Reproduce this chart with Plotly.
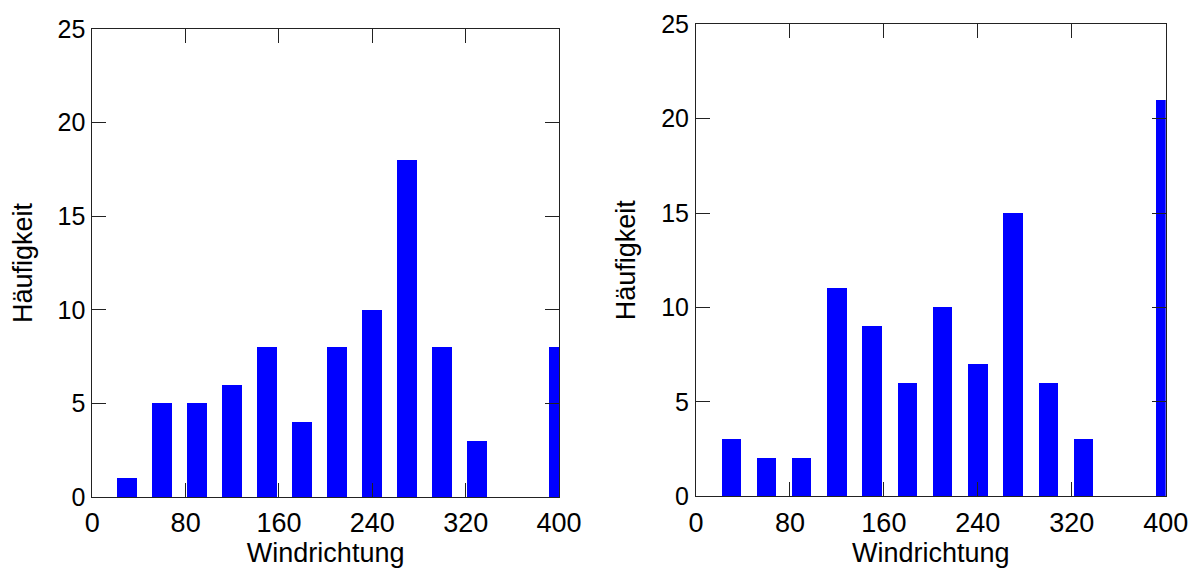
import plotly.graph_objects as go

# Data
bin_centers = [30, 60, 90, 120, 150, 180, 210, 240, 270, 300, 330, 360, 400]
counts_left = [1, 5, 5, 6, 8, 4, 8, 10, 18, 8, 3, 0, 8]
counts_right = [3, 2, 2, 11, 9, 6, 10, 7, 15, 6, 3, 0, 21]
x_ticks = [0, 80, 160, 240, 320, 400]
y_ticks = [0, 5, 10, 15, 20, 25]

BLUE = "#0000FF"
FONT = "Liberation Sans, Arial, Helvetica, sans-serif"

fig = go.Figure()
fig.add_trace(go.Bar(x=bin_centers, y=counts_left, width=16.5,
                     marker=dict(color=BLUE, line=dict(width=0)),
                     xaxis="x", yaxis="y", showlegend=False))
fig.add_trace(go.Bar(x=bin_centers, y=counts_right, width=16.5,
                     marker=dict(color=BLUE, line=dict(width=0)),
                     xaxis="x2", yaxis="y2", showlegend=False))

W, H = 1192, 571

def xd(a, b):
    return [a / W, b / W]

def yd(top, bottom):
    return [1 - bottom / H, 1 - top / H]

axis_common = dict(
    showline=True, linecolor="#222", linewidth=1, mirror="ticks",
    ticks="inside", ticklen=14, tickcolor="#222", tickwidth=1,
    showgrid=False, zeroline=False, automargin=False,
)

xcommon = dict(axis_common, range=[0, 400], tickvals=x_ticks,
               tickfont=dict(family=FONT, size=27, color="black"),
               title=dict(text="Windrichtung", font=dict(family=FONT, size=27, color="black"), standoff=4),
               ticklabelstandoff=2)
ycommon = dict(axis_common, range=[0, 25], tickvals=y_ticks,
               tickfont=dict(family=FONT, size=25, color="black"),
               title=dict(text="Häufigkeit", font=dict(family=FONT, size=27, color="black"), standoff=17),
               ticklabelstandoff=1)

fig.update_layout(
    width=W, height=H,
    margin=dict(l=0, r=0, t=0, b=0, autoexpand=False),
    paper_bgcolor="white", plot_bgcolor="white",
    bargap=0,
    xaxis=dict(xcommon, domain=xd(92.3, 559), anchor="y"),
    yaxis=dict(ycommon, domain=yd(29, 497), anchor="x"),
    xaxis2=dict(xcommon, domain=xd(696, 1165.7), anchor="y2"),
    yaxis2=dict(ycommon, domain=yd(24.3, 496.3), anchor="x2"),
)

fig.write_html("out.html")
